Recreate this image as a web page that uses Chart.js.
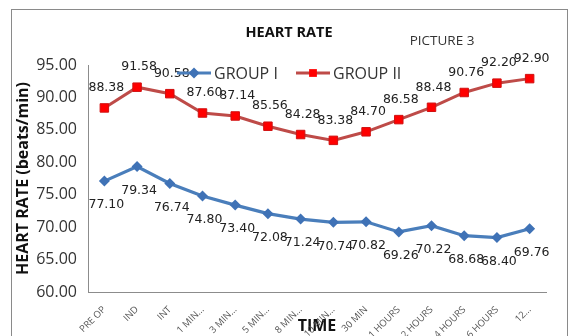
<!DOCTYPE html>
<html>
<head>
<meta charset="utf-8">
<script src="https://cdn.jsdelivr.net/npm/chart.js@4.4.1/dist/chart.umd.min.js"></script>
<style>
  html, body { margin: 0; padding: 0; background: #fff; overflow: hidden; }
  #wrap { position: relative; width: 573px; height: 336px; }
  #frame { position: absolute; left: 11px; top: 9px; width: 555px; height: 340px; border: 1px solid #8a8a8a; }
  canvas { position: absolute; left: 0; top: 0; }
</style>
</head>
<body>
<div id="wrap">
  <div id="frame"></div>
  <canvas id="hr" width="573" height="336"></canvas>
</div>
<script>
(function(){
  const times = ["PRE OP", "IND", "INT", "1 MIN…", "3 MIN…", "5 MIN…", "8 MIN…", "10 MIN…",
                 "30 MIN", "1 HOURS", "2 HOURS", "4 HOURS", "6 HOURS", "12…"];
  const groupOne = [77.10, 79.34, 76.74, 74.80, 73.40, 72.08, 71.24, 70.74, 70.82, 69.26, 70.22, 68.68, 68.40, 69.76];
  const groupTwo = [88.38, 91.58, 90.58, 87.60, 87.14, 85.56, 84.28, 83.38, 84.70, 86.58, 88.48, 90.76, 92.20, 92.90];
  const yTicks = { min: 60, max: 95, step: 5 };

  const BLUE = "#4a7ebb", BLUE_MARK = "#3f72b6";
  const RED_LINE = "#be4b48", RED_MARK = "#ff0000";

  // value labels: group II sits above its points, group I below
  const valueLabels = {
    id: "valueLabels",
    afterDatasetsDraw(chart){
      const ctx = chart.ctx;
      ctx.save();
      ctx.font = "12.5px 'DejaVu Sans'";
      ctx.fillStyle = "#222";
      ctx.textAlign = "center";
      ctx.textBaseline = "middle";
      chart.data.datasets.forEach((ds, i) => {
        const meta = chart.getDatasetMeta(i);
        const dy = i === 0 ? 24 : -20;
        meta.data.forEach((pt, j) => {
          ctx.fillText(ds.data[j].toFixed(2), pt.x + 2, pt.y + dy);
        });
      });
      ctx.restore();
    }
  };

  // heading, caption and the line+marker legend
  const heading = {
    id: "heading",
    afterDraw(chart){
      const ctx = chart.ctx;
      ctx.save();
      ctx.fillStyle = "#111";
      ctx.textBaseline = "middle";
      ctx.textAlign = "center";
      ctx.font = "bold 14.5px 'Open Sans'";
      ctx.fillText("HEART RATE", 289, 33);
      ctx.font = "13.5px 'Open Sans'";
      ctx.fillStyle = "#333";
      ctx.fillText("PICTURE 3", 442, 41);

      const items = [
        { text: chart.data.datasets[0].label, x: 177, line: BLUE, mark: BLUE_MARK, style: "rectRot" },
        { text: chart.data.datasets[1].label, x: 296, line: RED_LINE, mark: RED_MARK, style: "rect" }
      ];
      ctx.font = "16px 'Open Sans'";
      ctx.textAlign = "left";
      items.forEach(it => {
        const y = 73;
        ctx.strokeStyle = it.line;
        ctx.lineWidth = 3;
        ctx.beginPath();
        ctx.moveTo(it.x, y);
        ctx.lineTo(it.x + 34, y);
        ctx.stroke();
        ctx.fillStyle = it.mark;
        Chart.helpers.drawPoint(ctx, { pointStyle: it.style, radius: 5.5, borderWidth: 0, rotation: 0 }, it.x + 17, y);
        ctx.fillStyle = "#333";
        ctx.fillText(it.text, it.x + 37, y + 1);
      });
      ctx.restore();
    }
  };

  new Chart(document.getElementById("hr"), {
    type: "line",
    data: {
      labels: times,
      datasets: [
        {
          label: "GROUP I",
          data: groupOne,
          borderColor: BLUE,
          borderWidth: 3.2,
          pointStyle: "rectRot",
          pointRadius: 5.5,
          pointBackgroundColor: BLUE_MARK,
          pointBorderColor: BLUE_MARK,
          pointBorderWidth: 0,
          tension: 0
        },
        {
          label: "GROUP II",
          data: groupTwo,
          borderColor: RED_LINE,
          borderWidth: 3,
          pointStyle: "rect",
          pointRadius: 6,
          pointBackgroundColor: RED_MARK,
          pointBorderColor: "#d01010",
          pointBorderWidth: 1,
          tension: 0
        }
      ]
    },
    options: {
      responsive: false,
      animation: false,
      devicePixelRatio: 1,
      layout: { padding: { left: 0, right: 27, top: 65, bottom: 0 } },
      plugins: {
        legend: { display: false },
        tooltip: { enabled: false },
        title: { display: false }
      },
      scales: {
        x: {
          offset: true,
          grid: { display: false, drawTicks: false },
          border: { display: true, color: "#8c8c8c", width: 1 },
          ticks: {
            minRotation: 45,
            maxRotation: 45,
            padding: 12,
            color: "#555",
            font: { family: "Open Sans", size: 9.5 }
          },
          title: {
            display: true,
            text: "TIME",
            color: "#111",
            font: { family: "Open Sans", size: 16, weight: "bold" },
            padding: { top: 0, bottom: 0 }
          },
          afterFit(scale){ scale.height = 44; }
        },
        y: {
          min: yTicks.min,
          max: yTicks.max,
          grid: { display: false, drawTicks: false },
          border: { display: true, color: "#8c8c8c", width: 1 },
          ticks: {
            stepSize: yTicks.step,
            padding: 11,
            color: "#333",
            font: { family: "Open Sans", size: 16 },
            callback: (v) => Number(v).toFixed(2)
          },
          title: {
            display: true,
            text: "HEART RATE (beats/min)",
            color: "#111",
            font: { family: "Open Sans", size: 16, weight: "bold" },
            padding: { top: 14, bottom: 0 }
          },
          afterFit(scale){ scale.width = 88; }
        }
      }
    },
    plugins: [valueLabels, heading]
  });
})();
</script>
</body>
</html>
